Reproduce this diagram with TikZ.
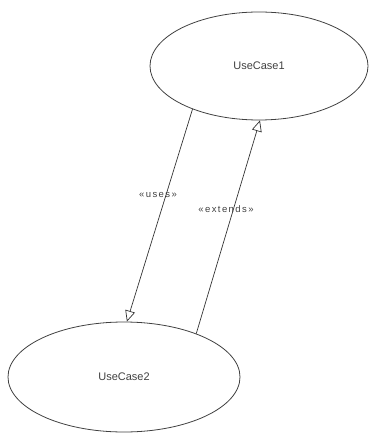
\documentclass[tikz,border=0pt]{standalone}
\usepackage{fontspec}
\setmainfont{Liberation Sans}
\usetikzlibrary{shapes.geometric,arrows.meta}
\begin{document}
\begin{tikzpicture}[x=1pt,y=-1pt,
  usecase/.style={ellipse,draw=black!75,line width=0.8pt,inner sep=0pt,text=black!75,font=\fontsize{11}{13}\selectfont},
  relation/.style={draw=black!80,line width=0.7pt,-{Triangle[open,length=11pt,width=10pt]}},
  stereo/.style={text=black!75,font=\fontsize{9.5}{11}\selectfont\addfontfeature{LetterSpace=15},inner sep=1pt}]
  \useasboundingbox (0,0) rectangle (368,435);
  \node[usecase,minimum width=218pt,minimum height=108pt] (uc1) at (259,66) {UseCase1};
  \node[usecase,minimum width=232pt,minimum height=110pt] (uc2) at (124,377) {UseCase2};
  \draw[relation] (uc1.213) -- (uc2.87);
  \draw[relation] (uc2.31) -- (uc1.271);
  \node[stereo] (uses) at (158,195) {«uses»};
  \node[stereo] (ext) at (226,209) {«extends»};
\end{tikzpicture}
\end{document}
